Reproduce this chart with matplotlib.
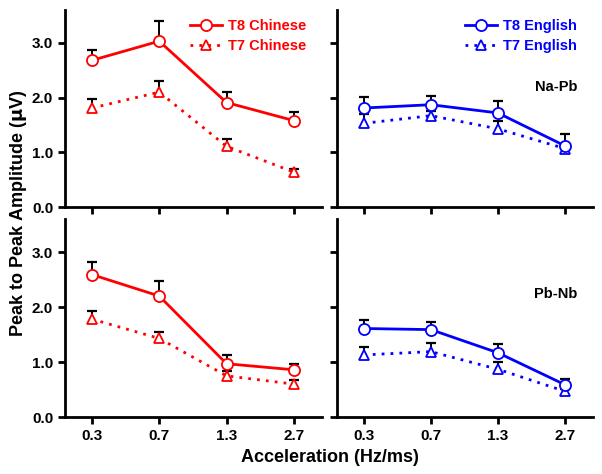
import numpy as np
import matplotlib.pyplot as plt

plt.rcParams['font.family'] = ['Liberation Sans', 'DejaVu Sans']
plt.rcParams['font.weight'] = 'bold'

accel_labels = ["0.3", "0.7", "1.3", "2.7"]

# Na-Pb
cn_napb_t8 = [2.68, 3.03, 1.91, 1.58]
cn_napb_t8_top = [2.87, 3.39, 2.10, 1.73]
cn_napb_t7 = [1.81, 2.10, 1.11, 0.64]
cn_napb_t7_top = [1.98, 2.30, 1.25, 0.70]
en_napb_t8 = [1.81, 1.87, 1.72, 1.12]
en_napb_t8_top = [2.01, 2.02, 1.93, 1.33]
en_napb_t7 = [1.53, 1.67, 1.43, 1.07]
en_napb_t7_top = [1.70, 1.76, 1.57, 1.14]

# Pb-Nb
cn_pbnb_t8 = [2.59, 2.20, 0.97, 0.86]
cn_pbnb_t8_top = [2.81, 2.48, 1.13, 0.96]
cn_pbnb_t7 = [1.78, 1.43, 0.75, 0.60]
cn_pbnb_t7_top = [1.92, 1.55, 0.83, 0.67]
en_pbnb_t8 = [1.61, 1.59, 1.17, 0.59]
en_pbnb_t8_top = [1.76, 1.72, 1.33, 0.70]
en_pbnb_t7 = [1.13, 1.19, 0.87, 0.47]
en_pbnb_t7_top = [1.28, 1.34, 1.00, 0.52]

RED = "#ff0000"
BLUE = "#0000ff"

fig = plt.figure(figsize=(6.02, 4.74), dpi=100)
ax_tl = fig.add_axes([0.108, 0.563, 0.427, 0.416])
ax_tr = fig.add_axes([0.560, 0.563, 0.425, 0.416])
ax_bl = fig.add_axes([0.108, 0.120, 0.427, 0.418])
ax_br = fig.add_axes([0.560, 0.120, 0.425, 0.418])

x = np.arange(len(accel_labels))


def draw_panel(ax, t8, t8_top, t7, t7_top, color, lang, show_legend):
    # error bars (upward only, black)
    for vals, tops in [(t7, t7_top), (t8, t8_top)]:
        ax.vlines(x, vals, tops, color="black", lw=1.4, zorder=2)
        ax.plot(x, tops, linestyle="none", marker="_", ms=7, mew=1.6,
                color="black", zorder=2)
    ax.plot(x, t7, linestyle=(0, (1, 2.2)), lw=2, color=color,
            marker="^", ms=7, mfc="white", mec=color, mew=1.3,
            label=f"T7 {lang}", zorder=3)
    ax.plot(x, t8, linestyle="-", lw=2, color=color,
            marker="o", ms=8, mfc="white", mec=color, mew=1.3,
            label=f"T8 {lang}", zorder=4)

    ax.set_xlim(-0.4, 3.42)
    ax.set_ylim(0, 3.6)
    ax.set_yticks([0, 1, 2, 3])
    ax.set_xticks(x)
    for side in ["top", "right"]:
        ax.spines[side].set_visible(False)
    for side in ["left", "bottom"]:
        ax.spines[side].set_linewidth(2)
    ax.tick_params(direction="out", length=5, width=2, labelsize=11)

    if show_legend:
        handles, labels = ax.get_legend_handles_labels()
        leg = ax.legend(handles[::-1], labels[::-1], loc="upper right",
                        frameon=False, fontsize=10.5, handlelength=2.2,
                        handletextpad=0.4, labelspacing=0.45,
                        borderaxespad=0.0, bbox_to_anchor=(0.96, 0.985))
        for t in leg.get_texts():
            t.set_color(color)
            t.set_fontweight("bold")


draw_panel(ax_tl, cn_napb_t8, cn_napb_t8_top, cn_napb_t7, cn_napb_t7_top, RED, "Chinese", True)
draw_panel(ax_tr, en_napb_t8, en_napb_t8_top, en_napb_t7, en_napb_t7_top, BLUE, "English", True)
draw_panel(ax_bl, cn_pbnb_t8, cn_pbnb_t8_top, cn_pbnb_t7, cn_pbnb_t7_top, RED, "Chinese", False)
draw_panel(ax_br, en_pbnb_t8, en_pbnb_t8_top, en_pbnb_t7, en_pbnb_t7_top, BLUE, "English", False)

for ax in [ax_tl, ax_bl]:
    ax.set_yticklabels(["0.0", "1.0", "2.0", "3.0"])
for ax in [ax_tr, ax_br]:
    ax.set_yticklabels([])
for ax in [ax_tl, ax_tr]:
    ax.set_xticklabels([])
for ax in [ax_bl, ax_br]:
    ax.set_xticklabels(accel_labels)

ax_tr.text(0.94, 0.61, "Na-Pb", transform=ax_tr.transAxes, ha="right",
           va="center", fontsize=10.5, fontweight="bold")
ax_br.text(0.94, 0.62, "Pb-Nb", transform=ax_br.transAxes, ha="right",
           va="center", fontsize=10.5, fontweight="bold")

fig.text(0.03, 0.55, "Peak to Peak Amplitude ($\\mathbf{\\mu}$V)", rotation=90,
         ha="center", va="center", fontsize=13, fontweight="bold")
fig.text(0.548, 0.035, "Acceleration (Hz/ms)", ha="center", va="center",
         fontsize=13, fontweight="bold")

fig.savefig("out.png", dpi=100)
